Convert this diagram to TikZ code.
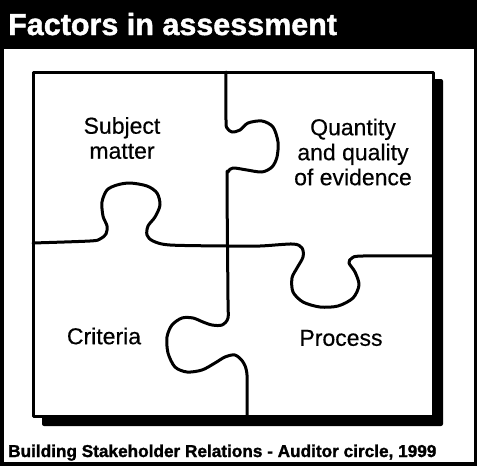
\documentclass[tikz,border=0pt]{standalone}
\usepackage{fontspec}
\setmainfont{Liberation Sans}[FakeBold=0.4, BoldFeatures={FakeBold=1.4}]
\usepackage{tikz}
\tikzset{edge/.style = {line width=3pt, line join=round, line cap=round}}
\tikzset{lbl/.style = {align=center, inner sep=0, font=\fontsize{23}{25}\selectfont}}
\tikzset{band/.style = {anchor=base west, inner sep=0, font=\bfseries}}

\begin{document}
\begin{tikzpicture}[x=1pt,y=-1pt]
        \useasboundingbox (0,0) rectangle (477,466);
        \fill [black] (0,0) rectangle (477,466);
        \fill [white] (4,49) rectangle (474,462);
        \node [band, white, font=\fontsize{30.5}{30}\selectfont\bfseries] (title) at (8,35) {Factors in assessment};
        \node [band, black, font=\fontsize{17.2}{18}\selectfont\bfseries] (source) at (8,457) {Building Stakeholder Relations - Auditor circle, 1999};
        \fill [black, rounded corners=2] (42,79) rectangle (443,426);
        \filldraw [fill=white, edge] (33,72) rectangle (433,416);
        \draw [edge] plot [smooth, tension=0.5] coordinates {(226,72) (226,120) (227,128) (232,132) (240,130) (248,123) (262,121) (273,127) (278,142) (277,157) (272,167) (262,172) (247,170) (233,168) (228,172) (227,182) (228,300) (228,318) (222,325) (212,325) (203,322) (193,318) (182,318) (172,325) (167,337) (168,353) (175,367) (187,372) (202,370) (215,363) (225,357) (235,355) (243,362) (247,375) (247,416)};
        \draw [edge] plot [smooth, tension=0.5] coordinates {(33,243) (90,241) (100,239) (106,234) (107,226) (103,216) (102,202) (107,190) (117,185) (130,183) (147,186) (157,193) (160,205) (155,217) (148,226) (147,235) (153,241) (170,245) (227,246) (260,246) (293,244) (302,248) (303,257) (297,268) (292,278) (293,292) (303,302) (320,307) (338,306) (353,298) (359,285) (355,272) (349,263) (352,258) (363,256) (433,256)};
        \node [lbl] (subject) at (122,138) {Subject\\matter};
        \node [lbl] (evidence) at (353,152) {Quantity\\and quality\\of evidence};
        \node [lbl] (criteria) at (104,336) {Criteria};
        \node [lbl] (process) at (341,338) {Process};
\end{tikzpicture}
\end{document}
